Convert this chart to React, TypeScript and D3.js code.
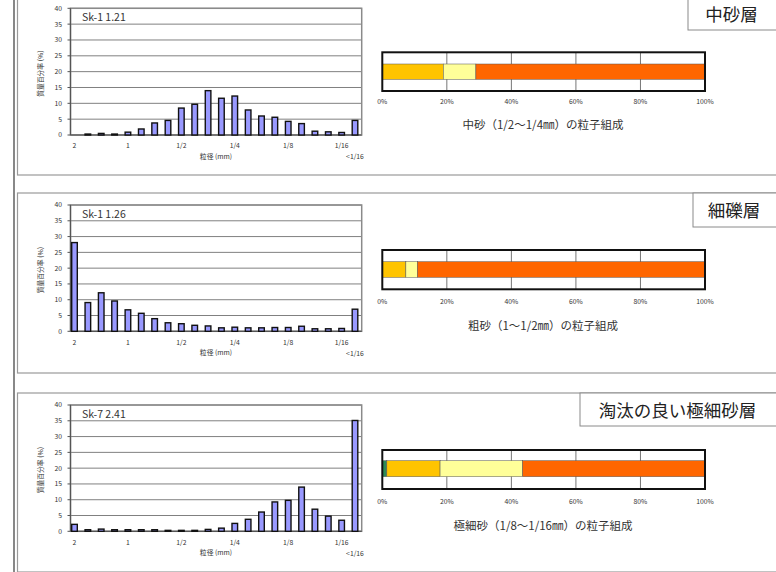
import React from "react";
import * as d3 from "d3";

// ---- data ----
const binLabels = ["2", "", "", "", "1", "", "", "", "1/2", "", "", "", "1/4", "", "", "", "1/8", "", "", "", "1/16", "<1/16"];
const yTicks = [0, 5, 10, 15, 20, 25, 30, 35, 40];
const pctTicks = [0, 20, 40, 60, 80, 100];

const sampleNames = ["Sk-1 1.21", "Sk-1 1.26", "Sk-7 2.41"];
const valuesSk1a = [0, 0.3, 0.5, 0.3, 0.9, 1.9, 3.8, 4.6, 8.5, 9.7, 14.0, 11.6, 12.3, 7.9, 6.0, 5.6, 4.3, 3.6, 1.2, 1.0, 0.8, 4.6];
const valuesSk1b = [28.1, 9.1, 12.2, 9.6, 6.8, 5.7, 4.0, 2.7, 2.4, 1.9, 1.7, 1.1, 1.3, 1.1, 1.1, 1.2, 1.2, 1.6, 0.8, 0.8, 0.9, 7.0];
const valuesSk7 = [2.2, 0.5, 0.7, 0.5, 0.5, 0.5, 0.5, 0.3, 0.3, 0.3, 0.6, 1.0, 2.5, 3.8, 6.1, 9.3, 9.8, 14.0, 7.0, 4.8, 3.5, 35.1];

const compSk1a = [0, 18.9, 10.1, 71.0];
const compSk1b = [0, 7.3, 3.6, 89.1];
const compSk7 = [1.4, 16.5, 25.6, 56.5];

const captions = ["中砂（1/2〜1/4㎜）の粒子組成", "粗砂（1〜1/2㎜）の粒子組成", "極細砂（1/8〜1/16㎜）の粒子組成"];
const layerNames = ["中砂層", "細礫層", "淘汰の良い極細砂層"];

// ---- styles / layout ----
const compColors = ["#2e8b57", "#ffc400", "#ffff99", "#ff6600"];
const barFill = "#9999ff";
const FONT = "'Noto Sans CJK JP', 'Noto Sans', sans-serif";

const histValues = [valuesSk1a, valuesSk1b, valuesSk7];
const comps = [compSk1a, compSk1b, compSk7];

const layout = [
  { boxTop: -4, boxBottom: 175, plotTop: 8.3, plotBottom: 135, stTop: 52.3, stBottom: 91, barTop: 64, barBottom: 79.3, tickY: 104, capY: 129, lblL: 688, lblTop: -2, lblBottom: 30 },
  { boxTop: 193, boxBottom: 373, plotTop: 205, plotBottom: 331.3, stTop: 250, stBottom: 289.3, barTop: 261.7, barBottom: 277.3, tickY: 304, capY: 330, lblL: 693, lblTop: 193, lblBottom: 227 },
  { boxTop: 393, boxBottom: 572, plotTop: 405, plotBottom: 531.3, stTop: 450, stBottom: 489, barTop: 460.7, barBottom: 476.7, tickY: 504, capY: 530, lblL: 580, lblTop: 393, lblBottom: 426 },
];

const plotLeft = 70.5;
const plotRight = 361.7;
const stLeft = 382.3;
const stRight = 705;

function Histogram({ idx }: { idx: number }) {
  const L = layout[idx];
  const vals = histValues[idx];
  const x = d3.scalePoint<number>().domain(d3.range(binLabels.length)).range([74.5, 355]);
  const y = d3.scaleLinear().domain([0, 40]).range([L.plotBottom, L.plotTop]);
  const bw = 5.6;
  return (
    <g>
      {yTicks.map((t) => (
        <line key={"g" + t} x1={plotLeft} x2={plotRight} y1={y(t)} y2={y(t)} stroke="#808080" strokeWidth={1} />
      ))}
      <rect x={plotLeft} y={L.plotTop} width={plotRight - plotLeft} height={L.plotBottom - L.plotTop} fill="none" stroke="#8a8a8a" strokeWidth={1.5} />
      <line x1={plotLeft} x2={plotLeft} y1={L.plotTop} y2={L.plotBottom} stroke="#555" strokeWidth={1.2} />
      <line x1={plotLeft} x2={plotRight} y1={L.plotBottom} y2={L.plotBottom} stroke="#555" strokeWidth={1.2} />
      {yTicks.map((t) => (
        <g key={"t" + t}>
          <line x1={plotLeft - 3} x2={plotLeft} y1={y(t)} y2={y(t)} stroke="#555" strokeWidth={1} />
          <text x={62} y={y(t)} dy="0.35em" textAnchor="end" fontSize={6.8} fill="#333" fontFamily={FONT}>{t}</text>
        </g>
      ))}
      {vals.map((v, i) =>
        v > 0 ? (
          <rect key={i} x={(x(i) as number) - bw / 2} y={y(v)} width={bw} height={Math.max(0, L.plotBottom - y(v))} fill={barFill} stroke="#111" strokeWidth={1.4} />
        ) : null
      )}
      {binLabels.map((lab, i) =>
        lab && i < binLabels.length - 1 ? (
          <text key={"x" + i} x={x(i)} y={L.plotBottom + 11} dy="0.35em" textAnchor="middle" fontSize={6.8} fill="#333" fontFamily={FONT}>{lab}</text>
        ) : null
      )}
      <text x={x(binLabels.length - 1)} y={L.plotBottom + 22} dy="0.35em" textAnchor="middle" fontSize={6.8} fill="#333" fontFamily={FONT}>{binLabels[binLabels.length - 1]}</text>
      <text x={216} y={L.plotBottom + 21.5} dy="0.35em" textAnchor="middle" fontSize={6.8} fill="#333" fontFamily={FONT}>粒径 (mm)</text>
      <text transform={`translate(40.5,${(L.plotTop + L.plotBottom) / 2 + 2}) rotate(-90)`} textAnchor="middle" dy="0.35em" fontSize={6.8} fill="#333" fontFamily={FONT}>質量百分率 (%)</text>
      <text x={82} y={L.plotTop + 9} dy="0.35em" fontSize={10.5} fill="#333" fontFamily={FONT}>{sampleNames[idx]}</text>
    </g>
  );
}

function Composition({ idx }: { idx: number }) {
  const L = layout[idx];
  const vals = comps[idx];
  const x = d3.scaleLinear().domain([0, 100]).range([stLeft, stRight]);
  const stack = d3.stack<number[]>().keys(d3.range(vals.length).map(String)).value((d, k) => d[+k]);
  const series = stack([vals]);
  return (
    <g>
      <rect x={stLeft} y={L.stTop} width={stRight - stLeft} height={L.stBottom - L.stTop} fill="#fff" />
      {pctTicks.slice(1, -1).map((t) => (
        <line key={"g" + t} x1={x(t)} x2={x(t)} y1={L.stTop} y2={L.stBottom} stroke="#777" strokeWidth={1} />
      ))}
      {series.map((s, i) =>
        s[0][1] - s[0][0] > 0 ? (
          <rect key={i} x={x(s[0][0])} y={L.barTop} width={x(s[0][1]) - x(s[0][0])} height={L.barBottom - L.barTop} fill={compColors[i]} stroke="#555" strokeWidth={0.5} />
        ) : null
      )}
      <rect x={stLeft} y={L.stTop} width={stRight - stLeft} height={L.stBottom - L.stTop} fill="none" stroke="#111" strokeWidth={2} />
      {pctTicks.map((t) => (
        <text key={"p" + t} x={x(t)} y={L.tickY} textAnchor="middle" fontSize={6.8} fill="#333" fontFamily={FONT}>{t + "%"}</text>
      ))}
      <text x={543} y={L.capY} textAnchor="middle" fontSize={11.5} fill="#333" fontFamily={FONT}>{captions[idx]}</text>
    </g>
  );
}

function Panel({ idx }: { idx: number }) {
  const L = layout[idx];
  return (
    <g>
      <rect x={17.5} y={L.boxTop} width={800} height={L.boxBottom - L.boxTop} fill="none" stroke="#9a9a9a" strokeWidth={1.2} />
      <Histogram idx={idx} />
      <Composition idx={idx} />
      <rect x={L.lblL} y={L.lblTop} width={800} height={L.lblBottom - L.lblTop} fill="#fff" stroke="#8a8a8a" strokeWidth={1} />
      <text x={(L.lblL + 775) / 2} y={(L.lblTop + L.lblBottom) / 2 + 1} dy="0.35em" textAnchor="middle" fontSize={17.5} fill="#222" fontFamily={FONT}>{layerNames[idx]}</text>
    </g>
  );
}

export default function App() {
  return (
    <div style={{ position: "fixed", left: 0, top: 0 }}>
      <svg width={776} height={572} style={{ display: "block", background: "#fff" }}>
        <rect x={0} y={0} width={776} height={572} fill="#fff" />
        <line x1={14} x2={14} y1={0} y2={572} stroke="#888" strokeWidth={2} />
        {[0, 1, 2].map((i) => (
          <Panel key={i} idx={i} />
        ))}
      </svg>
    </div>
  );
}
